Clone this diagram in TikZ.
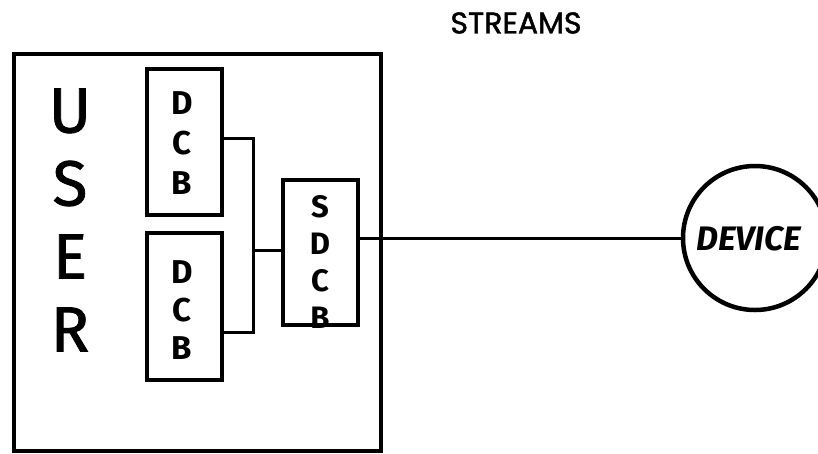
\documentclass[tikz,border=0pt]{standalone}
\usepackage{fontspec}
\setmainfont{Fira Sans}
\newfontfamily\titlefont[FakeBold=1.5]{Poppins}
\newfontfamily\userfont[FakeBold=1.2]{Fira Sans}
\tikzset{
  heavy/.style={draw, line width=3.5pt, rectangle, inner sep=0pt},
  link/.style={line width=3pt},
  hand/.style={font=\bfseries\fontsize{33}{41}\selectfont, align=center, inner sep=0pt},
}
\begin{document}
\begin{tikzpicture}[x=1pt,y=-1pt]
\useasboundingbox (0,0) rectangle (818,453);
\node[heavy, minimum width=367pt, minimum height=397pt] (user) at (197.5,252.5) {};
\node[font=\userfont\fontsize{64}{73}\selectfont, align=center, inner sep=0pt] (usertext) at (70,220) {U\\S\\E\\R};
\node[heavy, minimum width=75pt, minimum height=146pt] (dcba) at (184.5,142) {};
\node[hand] (dcbatext) at (182,143) {D\\[-1pt]C\\[-1pt]B};
\node[heavy, minimum width=75pt, minimum height=147pt] (dcbb) at (184.5,306.5) {};
\node[hand, font=\bfseries\fontsize{33}{38}\selectfont] (dcbbtext) at (182,310) {D\\C\\B};
\node[heavy, minimum width=75pt, minimum height=145pt] (sdcb) at (320.5,252.5) {};
\node[hand, font=\bfseries\fontsize{31}{37}\selectfont] (sdcbtext) at (320,262) {S\\D\\C\\B};
\node[draw, circle, line width=4.5pt, minimum size=144pt, inner sep=0pt] (dev) at (755,238) {};
\node[font=\bfseries\itshape\fontsize{34}{36}\selectfont, inner sep=0pt] (devtext) at (749,239) {DEVICE};
\node[font=\titlefont\fontsize{30}{32}\selectfont, inner sep=0pt] (title) at (516,23) {STREAMS};
\coordinate (ja) at (253,138);
\coordinate (jb) at (253,332);
\draw[link] (dcba.east |- ja) -- (ja) -- (jb) -- (dcbb.east |- jb);
\draw[link] (sdcb.west |- 0,250) -- (ja |- 0,250);
\draw[link] (sdcb.east |- dev) -- (dev.west);
\end{tikzpicture}
\end{document}
